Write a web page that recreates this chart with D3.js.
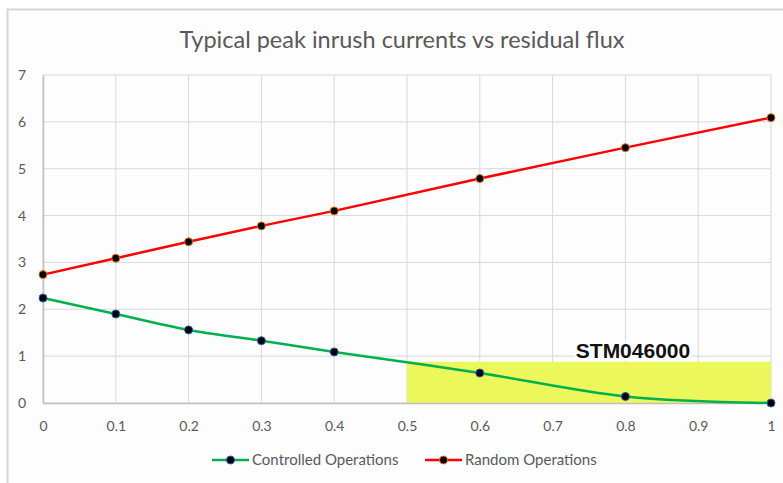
<!DOCTYPE html>
<html>
<head>
<meta charset="utf-8">
<script src="https://cdn.jsdelivr.net/npm/d3@7"></script>
<style>
  body { margin: 0; background: #fff; }
  text { font-family: Lato, "Open Sans", sans-serif; }
</style>
</head>
<body>
<svg id="viz" width="783" height="483"></svg>
<script>
// residual flux (x) vs peak inrush current (y)
var fluxValues = [0, 0.1, 0.2, 0.3, 0.4, 0.6, 0.8, 1];
var controlledOps = [2.24, 1.9, 1.56, 1.33, 1.09, 0.64, 0.14, 0];
var randomOps = [2.74, 3.09, 3.44, 3.78, 4.1, 4.79, 5.45, 6.09];
var xTicks = [0, 0.1, 0.2, 0.3, 0.4, 0.5, 0.6, 0.7, 0.8, 0.9, 1];
var yTicks = [0, 1, 2, 3, 4, 5, 6, 7];
var bandRange = [0.5, 1];   // highlighted STM046000 area
var bandTop = 0.88;
var bandLabel = "STM046000";
var seriesNames = ["Controlled Operations", "Random Operations"];

(function () {
    'use strict';
    var svg = d3.select("#viz");
    var margin = { top: 75, right: 10, bottom: 80, left: 43 };
    var w = 771 - margin.left, h = 403 - margin.top;

    // outer chart frame
    svg.append("rect")
        .attr("x", 7.5).attr("y", 9.5)
        .attr("width", 800).attr("height", 500)
        .attr("fill", "#fdfdfd")
        .attr("stroke", "#d6d6d6").attr("stroke-width", 2);

    svg.append("text")
        .attr("x", 402).attr("y", 48)
        .attr("text-anchor", "middle")
        .attr("fill", "#595959")
        .style("font-size", "23.5px")
        .text("Typical peak inrush currents vs residual flux");

    var g = svg.append("g").attr("transform", "translate(" + margin.left + "," + margin.top + ")");

    var xScale = d3.scaleLinear().domain([0, 1]).range([0, w]);
    var yScale = d3.scaleLinear().domain([0, 7]).range([h, 0]);

    // GRID
    g.selectAll(".hgrid").data(yTicks).enter().append("line")
        .attr("x1", 0).attr("x2", w)
        .attr("y1", function (d) { return yScale(d); })
        .attr("y2", function (d) { return yScale(d); })
        .attr("stroke", "#d9d9d9").attr("stroke-width", 1);
    g.selectAll(".vgrid").data(xTicks).enter().append("line")
        .attr("y1", 0).attr("y2", h)
        .attr("x1", function (d) { return xScale(d); })
        .attr("x2", function (d) { return xScale(d); })
        .attr("stroke", "#d9d9d9").attr("stroke-width", 1);

    // yellow band
    g.append("rect")
        .attr("x", xScale(bandRange[0]))
        .attr("width", xScale(bandRange[1]) - xScale(bandRange[0]))
        .attr("y", yScale(bandTop))
        .attr("height", yScale(0) - yScale(bandTop))
        .attr("fill", "#ebf75a");

    // AXES
    var xAxis = d3.axisBottom(xScale).tickValues(xTicks).tickSize(0).tickPadding(18)
        .tickFormat(function (d) { return d === 0 ? "0" : d === 1 ? "1" : d3.format(".1f")(d); });
    var yAxis = d3.axisLeft(yScale).tickValues(yTicks).tickSize(0).tickPadding(17)
        .tickFormat(d3.format("d"));
    var ax = g.append("g").attr("transform", "translate(0," + h + ")").call(xAxis);
    var ay = g.append("g").call(yAxis);
    [ax, ay].forEach(function (a) {
        a.select(".domain").attr("stroke", "#bfbfbf").attr("stroke-width", 1.5);
        a.selectAll("text").attr("fill", "#595959").style("font-size", "14px")
            .style("font-family", "Lato, sans-serif");
    });

    // label with white halo
    g.append("text")
        .attr("x", 633 - margin.left).attr("y", 358 - margin.top)
        .attr("text-anchor", "middle")
        .attr("fill", "#111")
        .attr("stroke", "#fff").attr("stroke-width", 5).attr("paint-order", "stroke")
        .attr("stroke-linejoin", "round")
        .style("font-family", "'Liberation Sans', Arial, sans-serif")
        .style("font-weight", "bold").style("font-size", "21px")
        .text(bandLabel);

    //LINES
    var series = [
        { name: seriesNames[0], values: controlledOps, color: "#00b050", ring: "#2f5fb3", curve: d3.curveCatmullRom.alpha(0.5) },
        { name: seriesNames[1], values: randomOps, color: "#ff0000", ring: "#e6761e", curve: d3.curveLinear }
    ];
    series.forEach(function (s) {
        var pts = fluxValues.map(function (x, i) { return [x, s.values[i]]; });
        var line = d3.line()
            .x(function (d) { return xScale(d[0]); })
            .y(function (d) { return yScale(d[1]); })
            .curve(s.curve);
        g.append("path").datum(pts)
            .attr("d", line).attr("fill", "none")
            .attr("stroke", s.color).attr("stroke-width", 2.5);
        g.selectAll(null).data(pts).enter().append("circle")
            .attr("cx", function (d) { return xScale(d[0]); })
            .attr("cy", function (d) { return yScale(d[1]); })
            .attr("r", 4).attr("fill", "#000")
            .attr("stroke", s.ring).attr("stroke-width", 1);
    });

    // LEGEND
    var legendX = [212, 425];
    series.forEach(function (s, i) {
        var lg = svg.append("g").attr("transform", "translate(" + legendX[i] + ",460)");
        lg.append("line").attr("x1", 0).attr("x2", 37).attr("y1", 0).attr("y2", 0)
            .attr("stroke", s.color).attr("stroke-width", 2.5);
        lg.append("circle").attr("cx", 18.5).attr("cy", 0).attr("r", 4)
            .attr("fill", "#000").attr("stroke", s.ring);
        lg.append("text").attr("x", 40).attr("y", 5)
            .attr("fill", "#595959").style("font-size", "15px")
            .text(s.name);
    });
}());
</script>
</body>
</html>
